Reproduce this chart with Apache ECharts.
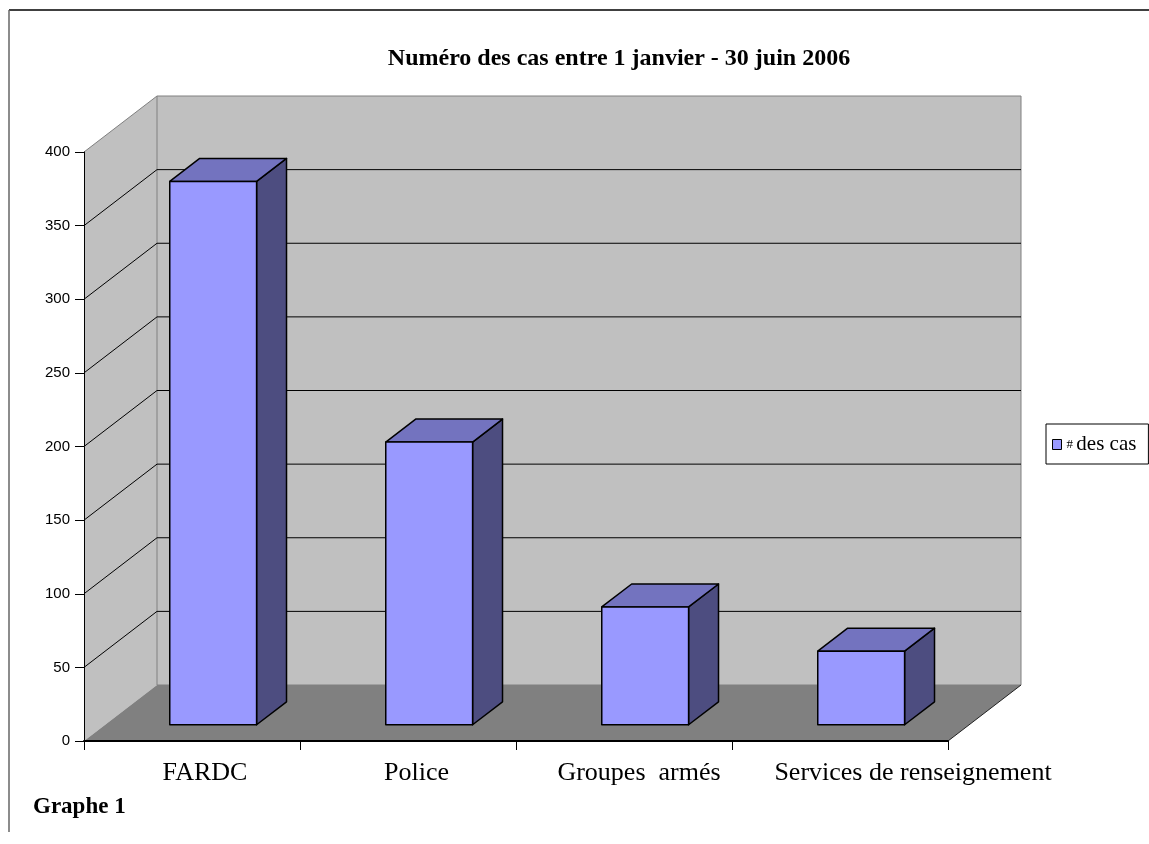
<!DOCTYPE html>
<html>
<head>
<meta charset="utf-8">
<script src="https://cdn.jsdelivr.net/npm/echarts@6/dist/echarts.min.js"></script>
<style>
  html, body { margin: 0; padding: 0; background: #ffffff; }
  #chart { width: 1149px; height: 844px; }
</style>
</head>
<body>
<div id="chart"></div>
<script>
// ---- data ----
const categories = ['FARDC', 'Police', 'Groupes  armés', 'Services de renseignement'];
const seriesName = '# des cas';
const values = [369, 192, 80, 50];
const yTicks = [0, 50, 100, 150, 200, 250, 300, 350, 400];
const titleText = 'Numéro des cas entre 1 janvier - 30 juin 2006';
const footText = 'Graphe 1';

// ---- style constants ----
const DX = 73, DY = 56;          // depth of the 3D box in px
const F0 = 0.29, F1 = 0.70;      // bar front/back depth fractions
const BAR_W = 0.402;             // bar width as fraction of category band
const labelShift = [26, 17, 30, 146]; // left padding for category labels

const chart = echarts.init(document.getElementById('chart'), null, { renderer: 'canvas' });

function boxGeom(params, api) {
  const cs = params.coordSys;
  const xl = cs.x, xr = cs.x + cs.width;
  const yb = api.coord([0, yTicks[0]])[1];
  const yt = api.coord([0, yTicks[yTicks.length - 1]])[1];
  return { xl, xr, yb, yt };
}

function renderWalls(params, api) {
  const g = boxGeom(params, api);
  return {
    type: 'group',
    children: [
      { type: 'polygon', shape: { points: [[g.xl, g.yt], [g.xl + DX, g.yt - DY], [g.xl + DX, g.yb - DY], [g.xl, g.yb]] },
        style: { fill: '#c0c0c0', stroke: null } },
      { type: 'rect', shape: { x: g.xl + DX, y: g.yt - DY, width: g.xr - g.xl, height: g.yb - g.yt },
        style: { fill: '#c0c0c0', stroke: '#808080', lineWidth: 1 } },
      { type: 'line', shape: { x1: g.xl, y1: g.yt, x2: g.xl + DX, y2: g.yt - DY },
        style: { stroke: '#808080', lineWidth: 1 } }
    ]
  };
}

function renderGrid(params, api) {
  const g = boxGeom(params, api);
  const y = api.coord([0, api.value(0)])[1];
  return {
    type: 'polyline',
    shape: { points: [[g.xl, y], [g.xl + DX, y - DY], [g.xr + DX, y - DY]] },
    style: { stroke: '#000', lineWidth: 1, fill: null }
  };
}

function renderFloor(params, api) {
  const g = boxGeom(params, api);
  return {
    type: 'group',
    children: [
      { type: 'polygon', shape: { points: [[g.xl, g.yb], [g.xl + DX, g.yb - DY], [g.xr + DX, g.yb - DY], [g.xr, g.yb]] },
        style: { fill: '#808080', stroke: null } },
      { type: 'line', shape: { x1: g.xr, y1: g.yb, x2: g.xr + DX, y2: g.yb - DY },
        style: { stroke: '#222', lineWidth: 1 } }
    ]
  };
}

function renderBar(params, api) {
  const i = api.value(0), v = api.value(1);
  const p0 = api.coord([i, 0]);
  const p1 = api.coord([i, v]);
  const band = api.size([1, 0])[0];
  const w = band * BAR_W;
  const fx0 = DX * F0, fy0 = DY * F0;
  const ddx = DX * (F1 - F0), ddy = DY * (F1 - F0);
  const xl = p0[0] - w / 2 + fx0, xr = p0[0] + w / 2 + fx0;
  const yb = p0[1] - fy0, yt = p1[1] - fy0;
  const st = { stroke: '#000', lineWidth: 1.5, lineJoin: 'round' };
  return {
    type: 'group',
    children: [
      { type: 'polygon', shape: { points: [[xr, yt], [xr + ddx, yt - ddy], [xr + ddx, yb - ddy], [xr, yb]] },
        style: Object.assign({ fill: '#4d4d80' }, st) },
      { type: 'polygon', shape: { points: [[xl, yt], [xl + ddx, yt - ddy], [xr + ddx, yt - ddy], [xr, yt]] },
        style: Object.assign({ fill: '#7373bf' }, st) },
      { type: 'rect', shape: { x: xl, y: yt, width: w, height: yb - yt },
        style: Object.assign({ fill: '#9999ff' }, st) }
    ]
  };
}

const rich = {};
categories.forEach((c, i) => {
  rich['c' + i] = { fontFamily: 'Liberation Serif', fontSize: 26, color: '#000', padding: [0, 0, 0, labelShift[i]] };
});

const option = {
  animation: false,
  backgroundColor: '#ffffff',
  title: [
    { text: titleText, left: 614, top: 42, textAlign: 'center',
      textStyle: { fontFamily: 'Liberation Serif', fontWeight: 'bold', fontSize: 24, color: '#000' } },
    { text: footText, left: 28, top: 791,
      textStyle: { fontFamily: 'Liberation Serif', fontWeight: 'bold', fontSize: 23, color: '#000' } }
  ],
  legend: {
    data: [seriesName],
    left: 1046, top: 424,
    orient: 'vertical',
    borderColor: '#000', borderWidth: 1,
    padding: [10, 12, 9, 6],
    itemWidth: 9, itemHeight: 10, icon: 'rect',
    itemStyle: { borderColor: '#000', borderWidth: 1 },
    formatter: function (n) { return '{h|#} {t|des cas}'; },
    textStyle: {
      rich: {
        h: { fontFamily: 'Liberation Serif', fontSize: 13, color: '#000' },
        t: { fontFamily: 'Liberation Serif', fontSize: 21, color: '#000' }
      }
    }
  },
  grid: { left: 84, right: 201, top: 152, bottom: 103, containLabel: false },
  xAxis: {
    type: 'category',
    data: categories,
    z: 10,
    axisLine: { lineStyle: { color: '#000', width: 2 } },
    axisTick: { show: true, length: 9, lineStyle: { color: '#000', width: 1 } },
    axisLabel: {
      interval: 0, margin: 19,
      formatter: function (val, idx) { return '{c' + idx + '|' + val + '}'; },
      rich: rich
    },
    splitLine: { show: false }
  },
  yAxis: {
    type: 'value',
    min: 0, max: 400, interval: 50,
    z: 10,
    axisLine: { show: true, lineStyle: { color: '#000', width: 1 } },
    axisTick: { show: true, length: 9, lineStyle: { color: '#000', width: 1 } },
    axisLabel: { margin: 14, fontFamily: 'Liberation Sans', fontSize: 15, color: '#000',
      formatter: function (v) { return yTicks.indexOf(v) >= 0 ? String(v) : ''; } },
    splitLine: { show: false }
  },
  graphic: [
    { type: 'line', shape: { x1: 9, y1: 10, x2: 1149, y2: 10 }, style: { stroke: '#000', lineWidth: 1.5 } },
    { type: 'line', shape: { x1: 9, y1: 10, x2: 9, y2: 832 }, style: { stroke: '#666', lineWidth: 1.5 } }
  ],
  series: [
    { type: 'custom', name: 'walls', silent: true, z: 1, renderItem: renderWalls, data: [[0, 0]] },
    { type: 'custom', name: 'grid', silent: true, z: 2, renderItem: renderGrid,
      data: yTicks.slice(1, yTicks.length - 1).map(v => [v]) },
    { type: 'custom', name: 'floor', silent: true, z: 3, renderItem: renderFloor, data: [[0, 0]] },
    { type: 'custom', name: seriesName, z: 4, renderItem: renderBar,
      itemStyle: { color: '#9999ff' },
      encode: { x: 0, y: 1 },
      data: values.map((v, i) => [i, v]) }
  ]
};
chart.setOption(option);
</script>
</body>
</html>
